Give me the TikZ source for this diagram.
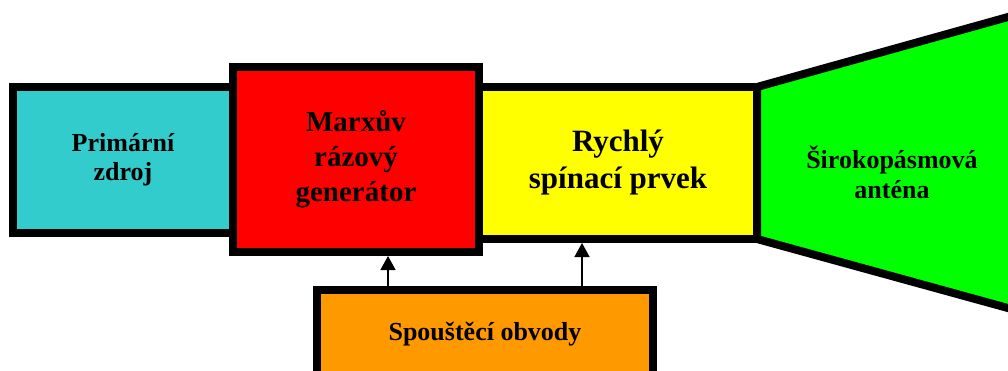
\documentclass[tikz,border=0pt]{standalone}
\usepackage{fontspec}
\setmainfont{Liberation Serif}
\usetikzlibrary{arrows.meta}

\definecolor{srcfill}{HTML}{33CCCC}
\definecolor{marxfill}{HTML}{FF0000}
\definecolor{switchfill}{HTML}{FFFF00}
\definecolor{antfill}{HTML}{00FF00}
\definecolor{trigfill}{HTML}{FF9900}

\tikzset{
  block/.style={draw=black, line width=8pt, inner sep=0pt, align=center},
  caption/.style={inner sep=0pt, align=center, text=black},
  trigger/.style={line width=1.5pt, -{Triangle[width=15pt,length=14pt]}},
}

\begin{document}
\begin{tikzpicture}[x=1pt, y=-1pt]
\useasboundingbox (0,0) rectangle (1008,371);
\begin{scope}
\clip (0,0) rectangle (1008,371);

% power source
\node[block, fill=srcfill, minimum width=220pt, minimum height=146pt,
      font=\fontsize{26}{29}\selectfont\bfseries] (src) at (123,160)
      {Primární\\zdroj};

% fast switch
\node[block, fill=switchfill, minimum width=278pt, minimum height=152pt,
      font=\fontsize{31}{37}\selectfont\bfseries] (sw) at (618,163)
      {Rychlý\\spínací prvek};

% horn antenna (runs off the right edge)
\draw[line width=8pt, fill=antfill, line join=miter]
  (757,87) -- (1050,5.3) -- (1050,319.6) -- (757,239) -- cycle;
\node[caption, font=\fontsize{26}{30}\selectfont\bfseries] (ant) at (892,172)
  {Širokopásmová\\anténa};

% Marx generator
\node[block, fill=marxfill, minimum width=246pt, minimum height=185pt,
      font=\fontsize{29}{35}\selectfont\bfseries] (marx) at (356,159.5)
      {Marxův\\rázový\\generátor};

% trigger circuits (runs off the bottom edge)
\node[block, fill=trigfill, minimum width=336pt, minimum height=110pt] (trig) at (485,345) {};
\node[caption, font=\fontsize{26}{30}\selectfont\bfseries, anchor=base] (trigtext) at (485,340)
  {Spouštěcí obvody};

% trigger connections
\coordinate (t1) at (388,0);
\coordinate (t2) at (582,0);
\draw[trigger] (trig.north -| t1) -- (marx.south -| t1);
\draw[trigger] (trig.north -| t2) -- (sw.south -| t2);
\end{scope}
\end{tikzpicture}
\end{document}
